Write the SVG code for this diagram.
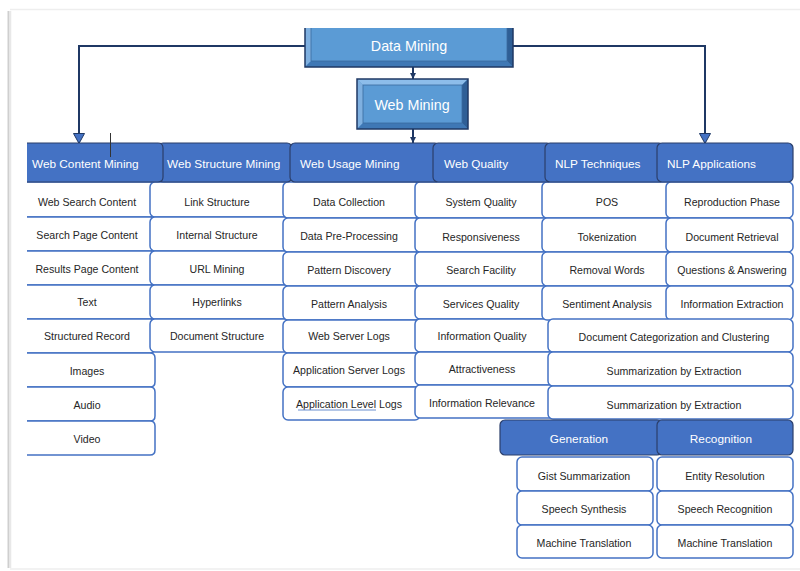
<svg xmlns="http://www.w3.org/2000/svg" width="800" height="571" viewBox="0 0 800 571">
<style>
.hdr{fill:#4472C4;stroke:#2B3F6B;stroke-width:1.2}
.cell{fill:#fff;stroke:#4472C4;stroke-width:1.5}
.ht{font-family:'Liberation Sans',Arial,sans-serif;font-size:11.8px;fill:#fff}
.htc{font-family:'Liberation Sans',Arial,sans-serif;font-size:11.8px;fill:#fff;text-anchor:middle}
.it{font-family:'Liberation Sans',Arial,sans-serif;font-size:10.6px;fill:#262626;text-anchor:middle}
.big{font-family:'Liberation Sans',Arial,sans-serif;font-size:14.3px;fill:#fff;text-anchor:middle}
.conn{fill:none;stroke:#1F3864;stroke-width:2}
</style>
<defs>
<marker id="tri" viewBox="0 0 11 12" refX="10" refY="6" markerWidth="11" markerHeight="12" markerUnits="userSpaceOnUse" orient="auto">
<path d="M0.5,0.5 L10.5,6 L0.5,11.5 Z" fill="#4472C4" stroke="#1F3864" stroke-width="1"/>
</marker>
<marker id="sm" viewBox="0 0 6 6" refX="6" refY="3" markerWidth="6" markerHeight="6" markerUnits="userSpaceOnUse" orient="auto">
<path d="M0,0 L6,3 L0,6 Z" fill="#1F3864"/>
</marker>
</defs>
<rect x="0" y="0" width="800" height="571" fill="#fff"/>
<g id="page">
<line x1="8.5" y1="11" x2="8.5" y2="568" stroke="#cfcfcf" stroke-width="2"/>
<line x1="10.5" y1="11" x2="10.5" y2="568" stroke="#e8e8e8" stroke-width="1.5"/>
<line x1="10" y1="9.5" x2="800" y2="9.5" stroke="#eeeeee" stroke-width="1.5"/>
<line x1="10" y1="569" x2="800" y2="569" stroke="#eeeeee" stroke-width="1.5"/>
</g>
<g id="connectors">
<path class="conn" d="M305,46 H79 V143" marker-end="url(#tri)"/>
<path class="conn" d="M513,46 H705 V143" marker-end="url(#tri)"/>
<path class="conn" d="M413,67 V79" marker-end="url(#sm)"/>
<path class="conn" d="M413,129 V143" marker-end="url(#sm)"/>
</g>
<g id="data-mining">
<rect x="305" y="28" width="208" height="39" fill="#5B9BD5"/>
<polygon points="305,28 311,28 311,61 305,67" fill="#7FB0E0"/>
<polygon points="305,67 311,61 507,61 513,67" fill="#3F78B5"/>
<polygon points="513,28 507,28 507,61 513,67" fill="#2F5F96"/>
<path d="M305,28 V67 H513 V28" fill="none" stroke="#1F3864" stroke-width="1.5"/>
<path d="M311,28 V61 H507 V28" fill="none" stroke="#3A6A9E" stroke-width="0.8"/>
<text class="big" x="409" y="51">Data Mining</text>
</g>
<g id="web-mining">
<rect x="357" y="79" width="111" height="50" fill="#5B9BD5"/>
<polygon points="357,79 468,79 462,85 363,85" fill="#8DBDEA"/>
<polygon points="357,79 363,85 363,123 357,129" fill="#7FB0E0"/>
<polygon points="357,129 363,123 462,123 468,129" fill="#3F78B5"/>
<polygon points="468,79 462,85 462,123 468,129" fill="#2F5F96"/>
<rect x="357" y="79" width="111" height="50" fill="none" stroke="#1F3864" stroke-width="1.5"/>
<rect x="363" y="85" width="99" height="38" fill="none" stroke="#3A6A9E" stroke-width="0.8"/>
<text class="big" x="412" y="110">Web Mining</text>
</g>
<!-- Column 1 cells -->
<g id="c1-web-search-content"><path class="cell" d="M27,182 H150 q5,0 5,5 V212 q0,5 -5,5 H27"/><text class="it" x="87" y="206">Web Search Content</text></g>
<g id="c1-search-page-content"><path class="cell" d="M27,217 H150 q5,0 5,5 V246 q0,5 -5,5 H27"/><text class="it" x="87" y="239">Search Page Content</text></g>
<g id="c1-results-page-content"><path class="cell" d="M27,251 H150 q5,0 5,5 V280 q0,5 -5,5 H27"/><text class="it" x="87" y="273">Results Page Content</text></g>
<g id="c1-text"><path class="cell" d="M27,285 H150 q5,0 5,5 V314 q0,5 -5,5 H27"/><text class="it" x="87" y="306">Text</text></g>
<g id="c1-structured-record"><path class="cell" d="M27,319 H150 q5,0 5,5 V348 q0,5 -5,5 H27"/><text class="it" x="87" y="340">Structured Record</text></g>
<g id="c1-images"><path class="cell" d="M27,353 H150 q5,0 5,5 V382 q0,5 -5,5 H27"/><text class="it" x="87" y="375">Images</text></g>
<g id="c1-audio"><path class="cell" d="M27,387 H150 q5,0 5,5 V416 q0,5 -5,5 H27"/><text class="it" x="87" y="409">Audio</text></g>
<g id="c1-video"><path class="cell" d="M27,421 H150 q5,0 5,5 V450 q0,5 -5,5 H27"/><text class="it" x="87" y="443">Video</text></g>
<!-- Column 2 -->
<g id="c2-link-structure"><rect class="cell" x="150" y="182" width="140" height="35" rx="5"/><text class="it" x="217" y="206">Link Structure</text></g>
<g id="c2-internal-structure"><rect class="cell" x="150" y="217" width="140" height="34" rx="5"/><text class="it" x="217" y="239">Internal Structure</text></g>
<g id="c2-url-mining"><rect class="cell" x="150" y="251" width="140" height="34" rx="5"/><text class="it" x="217" y="273">URL Mining</text></g>
<g id="c2-hyperlinks"><rect class="cell" x="150" y="285" width="140" height="34" rx="5"/><text class="it" x="217" y="306">Hyperlinks</text></g>
<g id="c2-document-structure"><rect class="cell" x="150" y="319" width="140" height="33" rx="5"/><text class="it" x="217" y="340">Document Structure</text></g>
<!-- Column 3 -->
<g id="c3-data-collection"><rect class="cell" x="283" y="182" width="137" height="36" rx="5"/><text class="it" x="349" y="206">Data Collection</text></g>
<g id="c3-data-pre-processing"><rect class="cell" x="283" y="218" width="137" height="34" rx="5"/><text class="it" x="349" y="240">Data Pre-Processing</text></g>
<g id="c3-pattern-discovery"><rect class="cell" x="283" y="252" width="137" height="34" rx="5"/><text class="it" x="349" y="274">Pattern Discovery</text></g>
<g id="c3-pattern-analysis"><rect class="cell" x="283" y="286" width="137" height="34" rx="5"/><text class="it" x="349" y="308">Pattern Analysis</text></g>
<g id="c3-web-server-logs"><rect class="cell" x="283" y="320" width="137" height="33" rx="5"/><text class="it" x="349" y="340">Web Server Logs</text></g>
<g id="c3-application-server-logs"><rect class="cell" x="283" y="353" width="137" height="34" rx="5"/><text class="it" x="349" y="374">Application Server Logs</text></g>
<g id="c3-application-level-logs"><rect class="cell" x="283" y="387" width="137" height="33" rx="5"/><text class="it" x="349" y="408">Application Level Logs</text><line x1="298" y1="410" x2="376" y2="410" stroke="#6A8FD0" stroke-width="1"/></g>
<!-- Column 4 -->
<g id="c4-system-quality"><rect class="cell" x="415" y="182" width="140" height="36" rx="5"/><text class="it" x="481" y="206">System Quality</text></g>
<g id="c4-responsiveness"><rect class="cell" x="415" y="218" width="140" height="34" rx="5"/><text class="it" x="481" y="241">Responsiveness</text></g>
<g id="c4-search-facility"><rect class="cell" x="415" y="252" width="140" height="34" rx="5"/><text class="it" x="481" y="274">Search Facility</text></g>
<g id="c4-services-quality"><rect class="cell" x="415" y="286" width="140" height="33" rx="5"/><text class="it" x="481" y="308">Services Quality</text></g>
<g id="c4-information-quality"><rect class="cell" x="415" y="319" width="140" height="33" rx="5"/><text class="it" x="482" y="340">Information Quality</text></g>
<g id="c4-attractiveness"><rect class="cell" x="415" y="352" width="140" height="33" rx="5"/><text class="it" x="482" y="373">Attractiveness</text></g>
<g id="c4-information-relevance"><rect class="cell" x="415" y="385" width="140" height="33" rx="5"/><text class="it" x="482" y="407">Information Relevance</text></g>
<!-- Column 5 -->
<g id="c5-pos"><rect class="cell" x="542" y="182" width="130" height="36" rx="5"/><text class="it" x="607" y="206">POS</text></g>
<g id="c5-tokenization"><rect class="cell" x="542" y="218" width="130" height="34" rx="5"/><text class="it" x="607" y="241">Tokenization</text></g>
<g id="c5-removal-words"><rect class="cell" x="542" y="252" width="130" height="34" rx="5"/><text class="it" x="607" y="274">Removal Words</text></g>
<g id="c5-sentiment-analysis"><rect class="cell" x="542" y="286" width="130" height="34" rx="5"/><text class="it" x="607" y="308">Sentiment Analysis</text></g>
<!-- Column 6 -->
<g id="c6-reproduction-phase"><rect class="cell" x="666" y="182" width="127" height="36" rx="5"/><text class="it" x="732" y="206">Reproduction Phase</text></g>
<g id="c6-document-retrieval"><rect class="cell" x="666" y="218" width="127" height="34" rx="5"/><text class="it" x="732" y="241">Document Retrieval</text></g>
<g id="c6-questions-answering"><rect class="cell" x="666" y="252" width="127" height="34" rx="5"/><text class="it" x="732" y="274">Questions &amp; Answering</text></g>
<g id="c6-information-extraction"><rect class="cell" x="666" y="286" width="127" height="34" rx="5"/><text class="it" x="732" y="308">Information Extraction</text></g>
<!-- Wide cells -->
<g id="w-document-categorization"><rect class="cell" x="548" y="319" width="245" height="33" rx="5"/><text class="it" x="674" y="341">Document Categorization and Clustering</text></g>
<g id="w-summarization-1"><rect class="cell" x="548" y="352" width="245" height="34" rx="5"/><text class="it" x="674" y="375">Summarization by Extraction</text></g>
<g id="w-summarization-2"><rect class="cell" x="548" y="386" width="245" height="33" rx="5"/><text class="it" x="674" y="409">Summarization by Extraction</text></g>
<!-- Generation / Recognition sub cells -->
<g id="g-gist-summarization"><rect class="cell" x="517" y="457" width="136" height="34" rx="5"/><text class="it" x="584" y="480">Gist Summarization</text></g>
<g id="g-speech-synthesis"><rect class="cell" x="517" y="491" width="136" height="34" rx="5"/><text class="it" x="584" y="513">Speech Synthesis</text></g>
<g id="g-machine-translation"><rect class="cell" x="517" y="525" width="136" height="33" rx="5"/><text class="it" x="584" y="547">Machine Translation</text></g>
<g id="r-entity-resolution"><rect class="cell" x="657" y="457" width="136" height="34" rx="5"/><text class="it" x="725" y="480">Entity Resolution</text></g>
<g id="r-speech-recognition"><rect class="cell" x="657" y="491" width="136" height="34" rx="5"/><text class="it" x="725" y="513">Speech Recognition</text></g>
<g id="r-machine-translation"><rect class="cell" x="657" y="525" width="136" height="33" rx="5"/><text class="it" x="725" y="547">Machine Translation</text></g>
<!-- Headers -->
<g id="h-web-structure-mining"><rect class="hdr" x="158" y="143" width="134" height="39" rx="5"/><text class="ht" x="167" y="168">Web Structure Mining</text></g>
<g id="h-web-content-mining"><path class="hdr" d="M27,143 H158 q5,0 5,5 V177 q0,5 -5,5 H27"/><text class="ht" x="32" y="168">Web Content Mining</text><line x1="110.5" y1="133" x2="110.5" y2="157" stroke="#333" stroke-width="1"/></g>
<g id="h-web-usage-mining"><rect class="hdr" x="290" y="143" width="150" height="39" rx="5"/><text class="ht" x="300" y="168">Web Usage Mining</text></g>
<g id="h-web-quality"><rect class="hdr" x="433" y="143" width="119" height="39" rx="5"/><text class="ht" x="444" y="168">Web Quality</text></g>
<g id="h-nlp-techniques"><rect class="hdr" x="545" y="143" width="119" height="39" rx="5"/><text class="ht" x="555" y="168">NLP Techniques</text></g>
<g id="h-nlp-applications"><rect class="hdr" x="657" y="143" width="136" height="39" rx="5"/><text class="ht" x="667" y="168">NLP Applications</text></g>
<g id="h-generation"><rect class="hdr" x="500" y="420" width="162" height="35" rx="5"/><text class="htc" x="579" y="443">Generation</text></g>
<g id="h-recognition"><rect class="hdr" x="657" y="420" width="136" height="35" rx="5"/><text class="htc" x="721" y="443">Recognition</text></g>
</svg>
